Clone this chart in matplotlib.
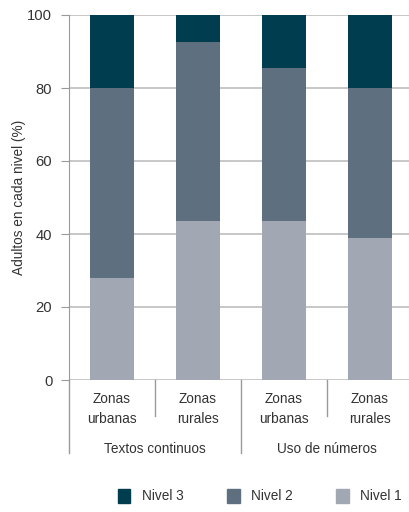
import matplotlib.pyplot as plt
import numpy as np
from matplotlib.patches import Patch

plt.rcParams['font.family'] = ['Liberation Sans', 'DejaVu Sans']

categories = ["Zonas\nurbanas", "Zonas\nrurales", "Zonas\nurbanas", "Zonas\nrurales"]
groups = ["Textos continuos", "Uso de números"]
nivel1 = [28, 43.5, 43.5, 39]
nivel2 = [52, 49, 42, 41]
nivel3 = [20, 7.5, 14.5, 20]
yticks = [0, 20, 40, 60, 80, 100]

c1, c2, c3 = "#a1a8b3", "#5e7080", "#003d4f"
txt = "#333333"
W, H = 409, 512
fs = 9.8

fig = plt.figure(figsize=(W / 100, H / 100), dpi=100)
ax = fig.add_axes([69 / W, 1 - 380 / H, (413 - 69) / W, (380 - 15) / H])

x = np.arange(len(categories))
bw = 0.52
b1 = np.array(nivel1)
b2 = b1 + np.array(nivel2)
ax.bar(x, nivel1, bw, color=c1, zorder=3)
ax.bar(x, nivel2, bw, bottom=b1, color=c2, zorder=3)
ax.bar(x, nivel3, bw, bottom=b2, color=c3, zorder=3)

ax.set_xlim(-0.5, 3.5)
ax.set_ylim(0, 100)
ax.set_yticks(yticks)
ax.yaxis.grid(True, color="#bdbdbd", lw=1.2, zorder=0)
ax.tick_params(axis="y", length=6, color="#9a9a9a", labelsize=fs + 0.8,
               labelcolor=txt, pad=6)
ax.set_xticks([])
for s in ["top", "right", "bottom"]:
    ax.spines[s].set_visible(False)
ax.spines["left"].set_color("#9a9a9a")
ax.set_ylabel("Adultos en cada nivel (%)", fontsize=fs, color=txt, labelpad=1)

# category labels and separators below the axis
to_y = lambda py: 100 * (380 - py) / (380 - 15)
for xi, lab in zip(x, categories):
    ax.text(xi, to_y(409), lab, ha="center", va="center", fontsize=fs,
            color=txt, linespacing=1.55, clip_on=False)
for xs, yb in [(0.5, 416), (1.5, 453), (2.5, 416), (-0.5, 453), (3.5, 453)]:
    ax.plot([xs, xs], [0, to_y(yb)], color="#9a9a9a", lw=1, clip_on=False)
for gi, g in enumerate(groups):
    ax.text(0.5 + 2 * gi, to_y(449), g, ha="center", va="center", fontsize=fs,
            color=txt, clip_on=False)

handles = [Patch(color=c3, label="Nivel 3"), Patch(color=c2, label="Nivel 2"),
           Patch(color=c1, label="Nivel 1")]
fig.legend(handles=handles, loc="center", bbox_to_anchor=(260 / W, 1 - 496 / H),
           ncol=3, frameon=False, fontsize=fs, handlelength=0.9, handleheight=1.3,
           columnspacing=3.2, handletextpad=0.85, labelcolor=txt,
           borderaxespad=0, borderpad=0)

fig.savefig("out.png", dpi=100, facecolor="white")
